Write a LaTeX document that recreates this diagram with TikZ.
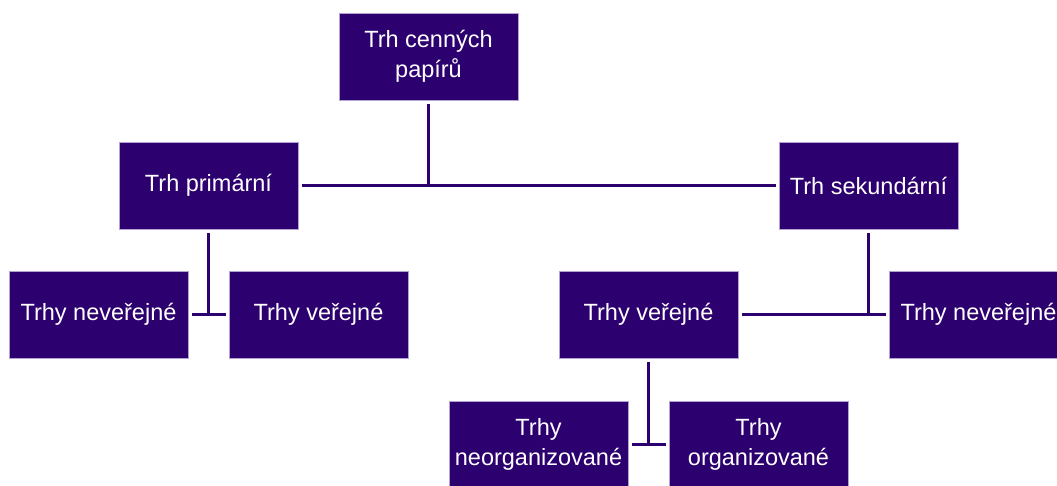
\documentclass[tikz,border=0pt]{standalone}
\usepackage{fontspec}
\setmainfont{Liberation Sans}
\definecolor{boxfill}{HTML}{2C006E}
\definecolor{boxline}{HTML}{B3A3D3}
\begin{document}
\begin{tikzpicture}[x=1pt,y=-1pt,
  box/.style={draw=boxline,line width=0.6pt,fill=boxfill,text=white,
    minimum width=179pt,minimum height=87pt,inner sep=0pt,align=center,
    font=\fontsize{23.5}{30}\selectfont},
  conn/.style={draw=boxfill,line width=2.4pt,shorten <=3.5pt,shorten >=3pt}]
\useasboundingbox (0,0) rectangle (1057,486);
\clip (0,0) rectangle (1057,486);
\node[box] (top) at (428.5,56.5) {Trh cenných\\papírů};
\node[box] (prim) at (208.5,185.5) {Trh primární};
\node[box] (sek) at (868.5,185.5) {Trh sekundární};
\node[box] (nev1) at (98.5,314.5) {Trhy neveřejné};
\node[box] (ver1) at (318.5,314.5) {Trhy veřejné};
\node[box] (ver2) at (648.5,314.5) {Trhy veřejné};
\node[box] (nev2) at (978.5,314.5) {Trhy neveřejné};
\node[box] (neorg) at (538.5,444.5) {Trhy\\neorganizované};
\node[box] (org) at (758.5,444.5) {Trhy\\organizované};
\draw[conn] (prim.east) -- (sek.west);
\draw[conn,shorten >=0pt] (top.south) -- (top |- prim);
\draw[conn] (nev1.east) -- (ver1.west);
\draw[conn,shorten >=0pt] (prim.south) -- (prim |- nev1);
\draw[conn] (ver2.east) -- (nev2.west);
\draw[conn,shorten >=0pt] (sek.south) -- (sek |- ver2);
\draw[conn] (neorg.east) -- (org.west);
\draw[conn,shorten >=0pt] (ver2.south) -- (ver2 |- neorg);
\end{tikzpicture}
\end{document}
